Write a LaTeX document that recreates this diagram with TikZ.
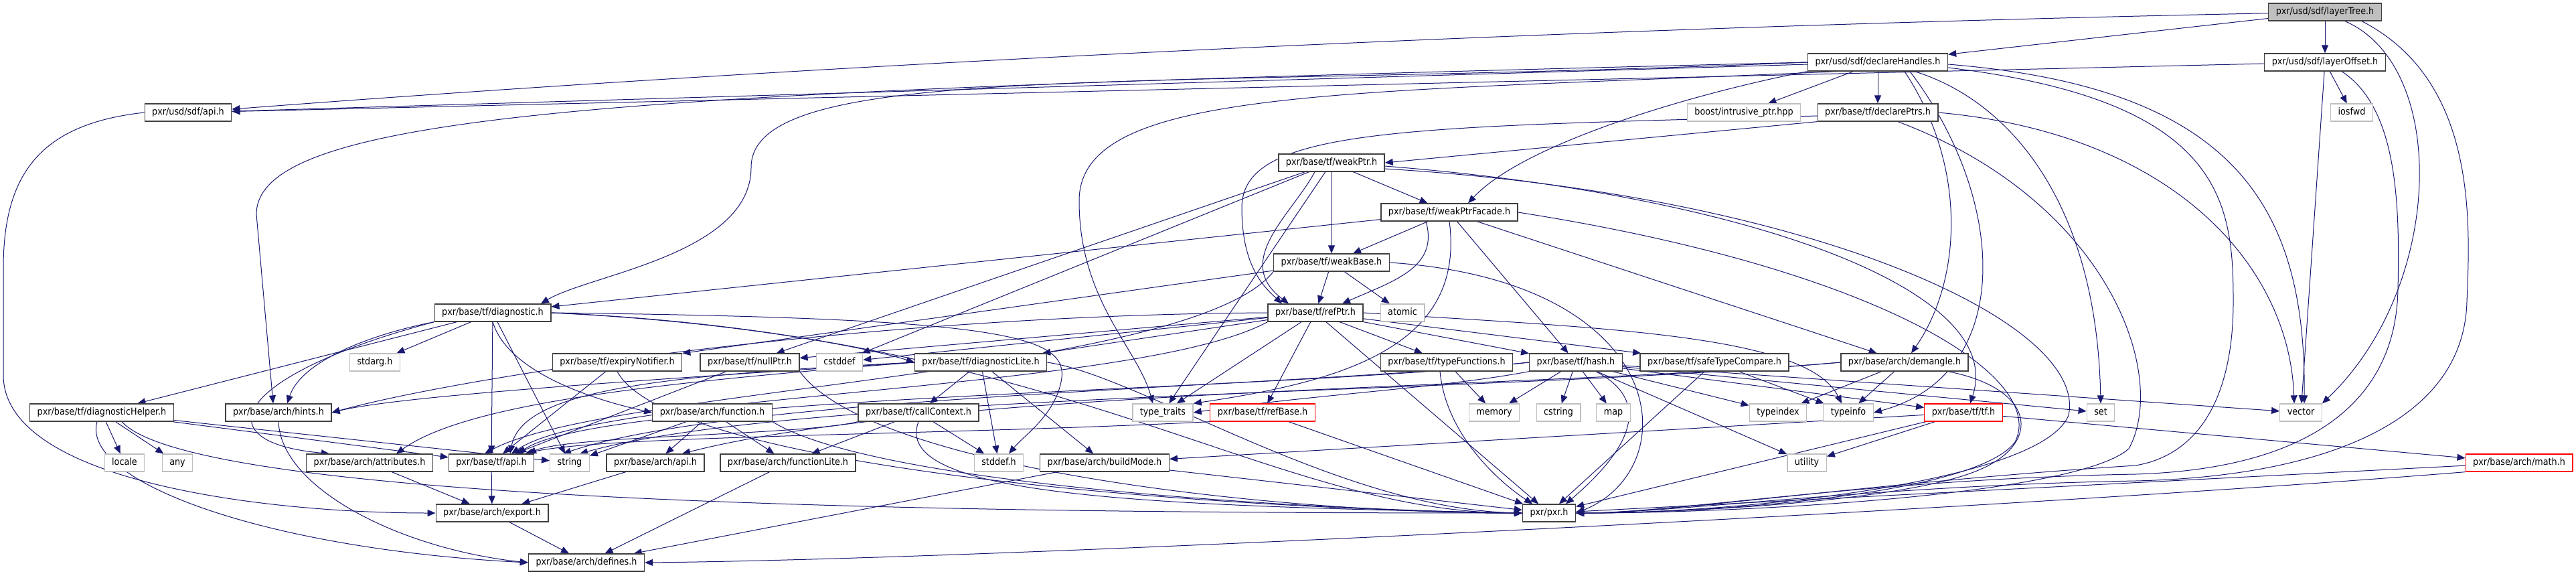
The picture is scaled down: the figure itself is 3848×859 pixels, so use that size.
\documentclass[tikz,border=0pt]{standalone}
\usepackage{fontspec}
\setmainfont{DejaVu Sans Condensed}
\usetikzlibrary{arrows.meta,backgrounds}
\definecolor{edgeblue}{HTML}{191970}
\definecolor{sysgray}{HTML}{BFBFBF}

\tikzset{
  file/.style={draw=black!75, fill=white, line width=1.3pt, minimum height=26pt,
    inner xsep=11pt, inner ysep=0pt, text height=10.5pt, text depth=3pt,
    font=\fontsize{14.2}{16}\selectfont},
  sysfile/.style={file, draw=sysgray},
  cutfile/.style={file, draw=red},
  rootfile/.style={file, fill=sysgray},
  dep/.style={draw=edgeblue, line width=1pt, -{Triangle[length=12pt,width=10pt]}},
}

\begin{document}
\begin{tikzpicture}[x=1pt,y=-1pt]
  \useasboundingbox (0,0) rectangle (3848,859);

  % files
  \node[rootfile] (layerTree) at (3473,18) {pxr/usd/sdf/layerTree.h};
  \node[file] (declareHandles) at (2805,93) {pxr/usd/sdf/declareHandles.h};
  \node[file] (layerOffset) at (3473,93) {pxr/usd/sdf/layerOffset.h};
  \node[file] (sdfapi) at (281,168) {pxr/usd/sdf/api.h};
  \node[sysfile] (boost) at (2605,168) {boost/intrusive\_ptr.hpp};
  \node[file] (declarePtrs) at (2805,168) {pxr/base/tf/declarePtrs.h};
  \node[sysfile] (iosfwd) at (3513,168) {iosfwd};
  \node[file] (weakPtr) at (1989,243) {pxr/base/tf/weakPtr.h};
  \node[file] (weakPtrFacade) at (2165,317) {pxr/base/tf/weakPtrFacade.h};
  \node[file] (weakBase) at (1989,392) {pxr/base/tf/weakBase.h};
  \node[file] (diagnostic) at (736,467) {pxr/base/tf/diagnostic.h};
  \node[file] (refPtr) at (1965,467) {pxr/base/tf/refPtr.h};
  \node[sysfile] (atomic) at (2095,467) {atomic};
  \node[sysfile] (stdarg) at (560,541) {stdarg.h};
  \node[file] (expiryNotifier) at (922,541) {pxr/base/tf/expiryNotifier.h};
  \node[file] (nullPtr) at (1120,541) {pxr/base/tf/nullPtr.h};
  \node[sysfile] (cstddef) at (1254,541) {cstddef};
  \node[file] (diagnosticLite) at (1465,541) {pxr/base/tf/diagnosticLite.h};
  \node[file] (typeFunctions) at (2161,541) {pxr/base/tf/typeFunctions.h};
  \node[file] (hash) at (2354,541) {pxr/base/tf/hash.h};
  \node[file] (safeTypeCompare) at (2561,541) {pxr/base/tf/safeTypeCompare.h};
  \node[file] (demangle) at (2845,541) {pxr/base/arch/demangle.h};
  \node[file] (diagnosticHelper) at (152,616) {pxr/base/tf/diagnosticHelper.h};
  \node[file] (hints) at (416,616) {pxr/base/arch/hints.h};
  \node[file] (function) at (1064,616) {pxr/base/arch/function.h};
  \node[file] (callContext) at (1372,616) {pxr/base/tf/callContext.h};
  \node[sysfile] (typeTraits) at (1737,616) {type\_traits};
  \node[cutfile] (refBase) at (1886,616) {pxr/base/tf/refBase.h};
  \node[sysfile] (memory) at (2232,616) {memory};
  \node[sysfile] (cstring) at (2328,616) {cstring};
  \node[sysfile] (map) at (2410,616) {map};
  \node[sysfile] (typeindex) at (2656,616) {typeindex};
  \node[sysfile] (typeinfo) at (2761,616) {typeinfo};
  \node[cutfile] (tf) at (2933,616) {pxr/base/tf/tf.h};
  \node[sysfile] (set) at (3138,616) {set};
  \node[sysfile] (vector) at (3437,616) {vector};
  \node[sysfile] (locale) at (186,691) {locale};
  \node[sysfile] (any) at (265,691) {any};
  \node[file] (attributes) at (552,691) {pxr/base/arch/attributes.h};
  \node[file] (tfapi) at (734,691) {pxr/base/tf/api.h};
  \node[sysfile] (string) at (851,691) {string};
  \node[file] (archapi) at (979,691) {pxr/base/arch/api.h};
  \node[file] (functionLite) at (1177,691) {pxr/base/arch/functionLite.h};
  \node[sysfile] (stddef) at (1492,691) {stddef.h};
  \node[file] (buildMode) at (1650,691) {pxr/base/arch/buildMode.h};
  \node[sysfile] (utility) at (2699,691) {utility};
  \node[cutfile] (math) at (3763,691) {pxr/base/arch/math.h};
  \node[file] (export) at (735,766) {pxr/base/arch/export.h};
  \node[file] (pxr) at (2314,766) {pxr/pxr.h};
  \node[file] (defines) at (876,840) {pxr/base/arch/defines.h};

  \begin{scope}[on background layer]
  % layerTree.h
  \draw[dep] (layerTree) .. controls (2400,40) and (1300,90) .. (sdfapi);
  \draw[dep] (layerTree) -- (declareHandles);
  \draw[dep] (layerTree) -- (layerOffset);
  \draw[dep] ([xshift=30]layerTree.south) .. controls (3660,100) and (3650,430) .. (vector.north east);
  \draw[dep] ([xshift=55]layerTree.south) .. controls (3700,120) and (3690,330) .. (3685,450)
    .. controls (3680,640) and (3450,712) .. (3190,718) .. controls (2800,725) and (2500,766) .. (pxr.east);
  % layerOffset.h
  \draw[dep] (layerOffset) -- (sdfapi);
  \draw[dep] (layerOffset) -- (iosfwd);
  \draw[dep] (layerOffset) -- (vector);
  \draw[dep] ([xshift=25]layerOffset.south) .. controls (3580,160) and (3585,300) .. (3582,430)
    .. controls (3580,600) and (3450,700) .. (3190,708) .. controls (2800,715) and (2500,766) .. (pxr.east);
  % declareHandles.h
  \draw[dep] (declareHandles) -- (sdfapi);
  \draw[dep] (declareHandles) -- (boost);
  \draw[dep] (declareHandles) -- (declarePtrs);
  \draw[dep] (declareHandles.south west) .. controls (2550,135) and (2280,210) .. ([xshift=28]weakPtrFacade.north);
  \draw[dep] (declareHandles.west) .. controls (1700,135) and (1122,90) .. (1122,250)
    .. controls (1122,380) and (880,410) .. ([xshift=72]diagnostic.north);
  \draw[dep] (declareHandles.west) .. controls (1000,135) and (383,160) .. (383,320) -- ([xshift=-8]hints.north);
  \draw[dep] ([xshift=40]declareHandles.south) .. controls (2940,250) and (2930,420) .. ([xshift=10]demangle.north);
  \draw[dep] ([xshift=55]declareHandles.south) .. controls (3000,150) and (3132,300) .. (set.north);
  \draw[dep] ([xshift=48]declareHandles.south) .. controls (3000,300) and (3010,560) .. (typeinfo.east);
  \draw[dep] ([xshift=-60]declareHandles.south) .. controls (2000,140) and (1612,130) .. (1612,300)
    .. controls (1612,450) and (1700,520) .. ([xshift=-15]typeTraits.north);
  \draw[dep] ([yshift=-3]declareHandles.east) .. controls (3330,130) and (3445,300) .. ([xshift=5]vector.north);
  \draw[dep] ([yshift=-8]declareHandles.east) .. controls (3320,150) and (3336,300) .. (3336,450)
    .. controls (3336,600) and (3280,680) .. (3190,695) .. controls (2800,720) and (2500,766) .. (pxr.east);
  % sdf/api.h
  \draw[dep] (sdfapi.west) .. controls (60,185) and (5,260) .. (5,400) -- (5,560)
    .. controls (5,720) and (400,766) .. (export.west);
  % declarePtrs.h
  \draw[dep] (declarePtrs.south west) -- (weakPtr.east);
  \draw[dep] ([yshift=-5]declarePtrs.west) .. controls (2100,190) and (1855,190) .. (1855,310)
    .. controls (1855,400) and (1890,430) .. ([xshift=-50]refPtr.north);
  \draw[dep] (declarePtrs.east) .. controls (3250,200) and (3420,400) .. ([xshift=-10]vector.north);
  \draw[dep] ([xshift=30]declarePtrs.south) .. controls (3150,300) and (3240,560) .. (3180,670)
    .. controls (3100,740) and (2600,766) .. (pxr.east);
  % weakPtr.h
  \draw[dep] (weakPtr) -- (weakPtrFacade);
  \draw[dep] (weakPtr) -- (weakBase);
  \draw[dep] ([xshift=-25]weakPtr.south) .. controls (1930,320) and (1840,390) .. ([xshift=-40]refPtr.north);
  \draw[dep] (weakPtr) -- (nullPtr);
  \draw[dep] ([yshift=-5]weakPtr.east) .. controls (2600,290) and (3000,430) .. ([xshift=10]tf.north);
  \draw[dep] (weakPtr) -- (cstddef);
  \draw[dep] (weakPtr) -- (typeTraits);
  \draw[dep] ([yshift=-9]weakPtr.east) .. controls (2700,290) and (3120,480) .. (3090,620)
    .. controls (3050,720) and (2600,766) .. (pxr.east);
  % weakPtrFacade.h
  \draw[dep] (weakPtrFacade) -- (diagnostic);
  \draw[dep] (weakPtrFacade) -- (weakBase);
  \draw[dep] ([xshift=-35]weakPtrFacade.south) .. controls (2150,400) and (2080,420) .. ([xshift=40]refPtr.north);
  \draw[dep] (weakPtrFacade) -- (hash);
  \draw[dep] (weakPtrFacade) -- (demangle);
  \draw[dep] (weakPtrFacade.south) .. controls (2190,520) and (2000,570) .. (typeTraits.north east);
  \draw[dep] (weakPtrFacade.east) .. controls (2800,400) and (3060,560) .. (3010,660)
    .. controls (2950,740) and (2550,766) .. (pxr.east);
  % weakBase.h
  \draw[dep] (weakBase.south west) .. controls (1780,560) and (900,580) .. ([xshift=-10]tfapi.north);
  \draw[dep] (weakBase) -- (expiryNotifier);
  \draw[dep] (weakBase) -- (refPtr);
  \draw[dep] (weakBase) -- (atomic);
  \draw[dep] (weakBase.east) .. controls (2500,420) and (2520,700) .. (pxr.east);
  % refPtr.h
  \draw[dep] (refPtr) -- (diagnosticLite);
  \draw[dep] (refPtr) -- (nullPtr);
  \draw[dep] (refPtr) -- (refBase);
  \draw[dep] (refPtr) -- (typeFunctions);
  \draw[dep] (refPtr) -- (hash);
  \draw[dep] (refPtr) -- (safeTypeCompare);
  \draw[dep] (refPtr.south west) .. controls (1700,585) and (900,585) .. ([xshift=30]tfapi.north);
  \draw[dep] (refPtr.west) .. controls (1300,470) and (700,560) .. (hints.east);
  \draw[dep] (refPtr) -- (cstddef);
  \draw[dep] (refPtr.east) .. controls (2400,490) and (2700,500) .. ([xshift=-10]typeinfo.north);
  \draw[dep] (refPtr) -- (typeTraits);
  \draw[dep] (refPtr) -- (pxr);
  % diagnostic.h
  \draw[dep] (diagnostic) -- (diagnosticHelper);
  \draw[dep] (diagnostic.east) .. controls (1100,480) and (1300,520) .. (diagnosticLite.west);
  \draw[dep] (diagnostic.south west) .. controls (550,500) and (450,540) .. ([xshift=13]hints.north);
  \draw[dep] (diagnostic.south west) .. controls (350,560) and (300,660) .. ([xshift=-60]attributes.north);
  \draw[dep] (diagnostic.south) .. controls (760,560) and (900,600) .. (function.west);
  \draw[dep] (diagnostic) -- (stdarg);
  \draw[dep] (diagnostic) -- (string);
  \draw[dep] (diagnostic) -- (tfapi);
  \draw[dep] (diagnostic.east) .. controls (1500,475) and (1600,500) .. (1585,570)
    .. controls (1575,620) and (1530,650) .. ([xshift=15]stddef.north);
  \draw[dep] (diagnostic.east) .. controls (1600,500) and (1900,766) .. (pxr.west);
  % expiryNotifier.h, nullPtr.h
  \draw[dep] (expiryNotifier) -- (tfapi);
  \draw[dep] (expiryNotifier.south) .. controls (1000,700) and (1800,760) .. (pxr.west);
  \draw[dep] (nullPtr) -- (tfapi);
  \draw[dep] (nullPtr.south east) .. controls (1300,700) and (1900,766) .. (pxr.west);
  % diagnosticLite.h
  \draw[dep] (diagnosticLite.west) .. controls (1000,560) and (780,580) .. ([xshift=28]tfapi.north);
  \draw[dep] (diagnosticLite.west) .. controls (1000,570) and (700,600) .. ([xshift=40]attributes.north);
  \draw[dep] (diagnosticLite) -- (buildMode);
  \draw[dep] (diagnosticLite.west) .. controls (1000,565) and (600,590) .. (hints.east);
  \draw[dep] (diagnosticLite) -- (callContext);
  \draw[dep] (diagnosticLite) -- (stddef);
  \draw[dep] (diagnosticLite.east) .. controls (1700,560) and (2000,760) .. (pxr.west);
  % typeFunctions.h
  \draw[dep] (typeFunctions) -- (memory);
  \draw[dep] ([xshift=-10]typeFunctions.south) .. controls (2160,650) and (2240,720) .. ([xshift=-25]pxr.north);
  % hash.h
  \draw[dep] (hash) -- (tf);
  \draw[dep] (hash) -- (memory);
  \draw[dep] (hash) -- (cstring);
  \draw[dep] (hash) -- (map);
  \draw[dep] (hash) -- (set);
  \draw[dep] (hash.west) .. controls (1900,580) and (1100,590) .. ([xshift=-10]string.north);
  \draw[dep] (hash) -- (typeindex);
  \draw[dep] (hash.south west) .. controls (2150,580) and (1950,590) .. (typeTraits.east);
  \draw[dep] (hash) -- (utility);
  \draw[dep] (hash) -- (vector);
  \draw[dep] (hash.west) .. controls (1900,585) and (900,590) .. ([xshift=40]tfapi.north);
  \draw[dep] ([xshift=30]hash.south) .. controls (2490,610) and (2400,700) .. ([xshift=25]pxr.north);
  % safeTypeCompare.h
  \draw[dep] (safeTypeCompare) -- (typeinfo);
  \draw[dep] (safeTypeCompare) -- (pxr);
  % demangle.h
  \draw[dep] (demangle.west) .. controls (2300,580) and (1400,580) .. ([xshift=40]archapi.north);
  \draw[dep] (demangle) -- (typeindex);
  \draw[dep] (demangle) -- (typeinfo);
  \draw[dep] (demangle.west) .. controls (2200,590) and (1200,585) .. ([xshift=15]string.north);
  \draw[dep] ([xshift=65]demangle.south) .. controls (3040,580) and (3050,660) .. (2960,700)
    .. controls (2850,750) and (2500,766) .. (pxr.east);
  % diagnosticHelper.h
  \draw[dep] (diagnosticHelper) -- (locale);
  \draw[dep] (diagnosticHelper) -- (any);
  \draw[dep] (diagnosticHelper) -- (tfapi);
  \draw[dep] (diagnosticHelper) -- (string);
  \draw[dep] ([xshift=-7]diagnosticHelper.south) .. controls (120,720) and (400,820) .. (defines.west);
  \draw[dep] ([xshift=30]diagnosticHelper.south) .. controls (300,760) and (1600,766) .. (pxr.west);
  % function.h, callContext.h, refBase.h
  \draw[dep] (function) -- (archapi);
  \draw[dep] (function) -- (functionLite);
  \draw[dep] (function) -- (string);
  \draw[dep] (function.south east) .. controls (1300,720) and (1900,760) .. (pxr.west);
  \draw[dep] (callContext.south west) .. controls (1200,650) and (850,650) .. ([xshift=55]tfapi.north);
  \draw[dep] (callContext) -- (functionLite);
  \draw[dep] (callContext) -- (stddef);
  \draw[dep] (callContext.south) .. controls (1330,740) and (1700,755) .. (pxr.west);
  \draw[dep] (refBase.south west) .. controls (1400,650) and (900,650) .. ([xshift=50]tfapi.north);
  \draw[dep] (refBase) -- (pxr);
  % tf.h
  \draw[dep] (tf) -- (buildMode);
  \draw[dep] (tf) -- (math);
  \draw[dep] (tf) -- (utility);
  \draw[dep] (tf) -- (pxr);
  % arch
  \draw[dep] (hints.south) .. controls (420,730) and (600,820) .. (defines.west);
  \draw[dep] (attributes) -- (export);
  \draw[dep] (tfapi) -- (export);
  \draw[dep] (archapi) -- (export);
  \draw[dep] (functionLite) -- (defines);
  \draw[dep] (buildMode) -- (defines);
  \draw[dep] (buildMode) -- (pxr);
  \draw[dep] (math.south west) .. controls (3000,760) and (1500,835) .. (defines.east);
  \draw[dep] (math) -- (pxr);
  \draw[dep] (export) -- (defines);
  \end{scope}
\end{tikzpicture}
\end{document}
